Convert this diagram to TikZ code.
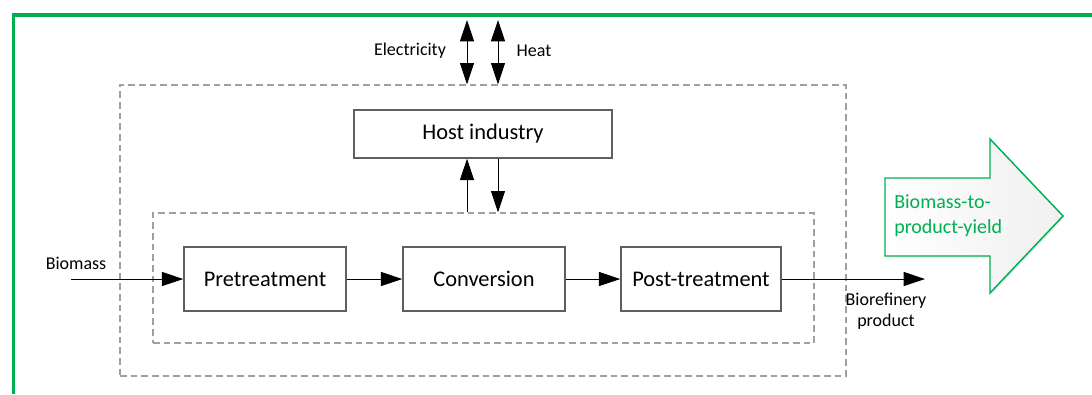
\documentclass[tikz,border=0pt]{standalone}
\usepackage{fontspec}
\setmainfont{Carlito}
\usetikzlibrary{arrows.meta,shadows}
\definecolor{framegreen}{RGB}{0,176,80}
\definecolor{boxgray}{RGB}{95,95,95}
\definecolor{dashgray}{RGB}{160,160,160}

\begin{document}
\begin{tikzpicture}[x=0.75pt,y=0.75pt,yscale=-1,
    stage/.style={draw=boxgray, line width=1.1pt, minimum width=121.5pt, minimum height=48pt, inner sep=0pt, font=\fontsize{16.8}{20}\selectfont},
    system/.style={draw=dashgray, line width=0.9pt, dash pattern=on 5pt off 3pt, inner sep=0pt},
    flow/.style={-{Triangle[length=16pt,width=10.5pt]}, line width=0.7pt},
    bothflow/.style={{Triangle[length=16pt,width=10.5pt]}-{Triangle[length=16pt,width=10.5pt]}, line width=0.7pt},
    tag/.style={font=\fontsize{13.5}{16}\selectfont, align=center, inner sep=0pt}
]
    \useasboundingbox (0,0) rectangle (1092,394);

    % green frame
    \draw [framegreen, line width=2.6pt] (13.5,394) -- (13.5,15) -- (1092,15);

    % system boundaries
    \draw (483,230.5) node [system, minimum width=544.5pt, minimum height=218.25pt] (outer) {};
    \draw (483.5,278) node [system, minimum width=495.75pt, minimum height=97.5pt] (inner) {};

    % process steps
    \draw (483,134) node [stage, minimum width=193.5pt, minimum height=36pt] (host) {Host industry};
    \draw (265,279) node [stage] (pre) {Pretreatment};
    \draw (484,279) node [stage] (conv) {Conversion};
    \draw (701,279) node [stage, minimum width=120pt] (post) {Post-treatment};

    % utilities
    \coordinate (elec) at (467,20);
    \coordinate (heat) at (498,20);
    \draw (410,51) node [tag] (eleclbl) {Electricity};
    \draw (534,51) node [tag] (heatlbl) {Heat};
    \draw [bothflow] (elec) -- (outer.north -| elec);
    \draw [bothflow] (heat) -- (outer.north -| heat);
    \draw [flow] (inner.north -| elec) -- (host.south -| elec);
    \draw [flow] (host.south -| heat) -- (inner.north -| heat);

    % main line
    \coordinate (feed) at (71,279);
    \coordinate (out) at (925,279);
    \draw (76,263) node [tag] (feedlbl) {Biomass};
    \draw (886,311) node [tag] (outlbl) {Biorefinery\\product};
    \draw [flow] (feed) -- (pre.west);
    \draw [flow] (pre) -- (conv);
    \draw [flow] (conv) -- (post);
    \draw [flow] (post.east) -- (out);

    % yield arrow
    \draw [framegreen, line width=1.1pt, left color=white, right color=gray!12,
           drop shadow={opacity=0.15, shadow xshift=1.2pt, shadow yshift=-1.2pt}]
        (885,178) -- (990,178) -- (990,139) -- (1063,216) -- (990,293) -- (990,256) -- (885,256) -- cycle;
    \draw (894,216) node [anchor=west, align=left, inner sep=0pt, text=framegreen, font=\fontsize{15}{19}\selectfont] (yield) {Biomass-to-\\product-yield};

\end{tikzpicture}
\end{document}
